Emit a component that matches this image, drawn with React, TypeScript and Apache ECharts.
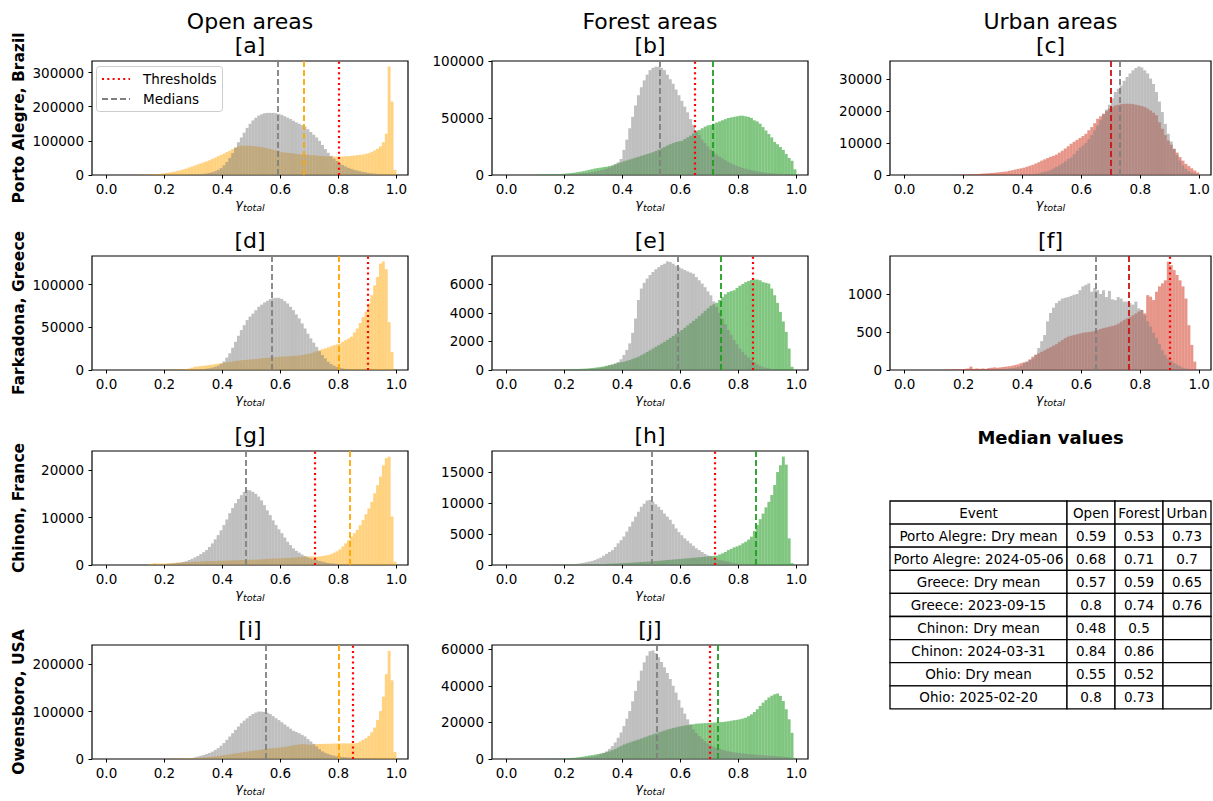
import React, { useEffect, useRef } from "react";
import * as echarts from "echarts";

const FONT = "DejaVu Sans";

// ---------------- text content ----------------
const COLUMN_TITLES = ["Open areas", "Forest areas", "Urban areas"];
const ROW_TITLES = ["Porto Alegre, Brazil", "Farkadona, Greece", "Chinon, France", "Owensboro, USA"];
const PANEL_IDS = ["a", "b", "c", "d", "e", "f", "g", "h", "i", "j"];
const PANEL_ROW = [0, 0, 0, 1, 1, 1, 2, 2, 3, 3];
const PANEL_COL = [0, 1, 2, 0, 1, 2, 0, 1, 0, 1];
const PANEL_CLASS = ["open", "forest", "urban", "open", "forest", "urban", "open", "forest", "open", "forest"];
const X_TICKS = [0, 0.2, 0.4, 0.6, 0.8, 1.0];

// ---------------- histogram counts (bins of 0.01 from 0 to 1) ----------------
// [a] Porto Alegre, open (unit 1000)
const A_DRY = [0,0,0,0,0,0,0,0,0,0,
  0,0,0,0,0,0.1,0.1,0.2,0.2,0.3,
  0.3,0.4,0.5,0.6,0.7,0.8,1,1.2,1.4,1.7,
  2,2.5,3,3.6,4.5,6,8,11,15,20,
  28,38,50,64,80,96,110,124,138,150,
  160,168,174,178,181,182,182,182,181,179,
  176,172,168,164,159,154,150,146,142,134,
  126,118,110,100,88,76,65,56,48,41,
  34,29,25,21,18,15,13,11,9,7.5,
  6,5,4,3.2,2.5,2,1.5,1,0.5,0.2];
const A_EVT = [0,0,0,0,0,0,0,0,0,0,
  0.5,0.6,0.8,1,1.3,1.7,2.2,2.8,3.5,4.5,
  6,7,8.5,10,12,14,16.5,19,22,25,
  28,31,34,37,40,43,47,51,55,59,
  63,67,71,76,81,84,86,86,86,86,
  85,84,83,82,80,78,76,74,72,70,
  67,66,65,64,63,62,61,60,60,59,
  58,58,57,56,56,55,55,54,54,54,
  54,54,55,55,56,57,58,59,60,62,
  64,68,72,77,84,96,121,318,215,15];
// [b] Porto Alegre, forest (unit 1000)
const B_DRY = [0,0,0,0,0,0,0,0,0,0,
  0.1,0.1,0.1,0.2,0.2,0.3,0.3,0.4,0.5,0.6,
  0.7,0.8,0.9,1,1.1,1.3,1.5,1.8,2.1,2.5,
  3,3.5,4,4.7,5.5,6.5,7.8,9.3,11,14,
  22,31,41,51,61,70,77,83,88,92,
  94,95,95,94,92,88,84,80,75,70,
  65,60,55,49,44,39,35,31,28,25,
  22,20,18,16,14.5,13,11.5,10.2,9,8,
  7,6.2,5.5,4.8,4.2,3.7,3.2,2.8,2.4,2,
  1.7,1.5,1.3,1.1,1,0.8,0.6,0.5,0.3,0.1];
const B_EVT = [0,0,0,0,0,0,0,0,0,0,
  0.2,0.3,0.3,0.4,0.5,0.6,0.7,0.8,0.9,1.1,
  1.3,1.5,1.8,2.1,2.5,2.9,3.4,3.9,4.5,5.1,
  5.7,6.1,6.5,6.9,7.3,7.8,8.5,9.3,10.2,11.1,
  12,12.8,13.6,14.4,15.2,16,16.8,17.6,18.4,19.2,
  20,21,22.2,23.4,24.6,26,27,28,29,29.5,
  30,31.5,33,34.5,36.5,38,39.5,41,42.5,43.5,
  44,45,46,47,48,49,50,50.5,51,51.5,
  52,52,51.5,51,50,48,47,45,42,39,
  36,33,29,27,24.5,22,18.5,15,12.5,5];
// [c] Porto Alegre, urban (unit 1000)
const C_DRY = [0,0,0,0,0,0,0,0,0,0,
  0,0,0,0,0,0,0,0,0,0,
  0,0,0,0,0,0,0,0,0,0,
  0.05,0.05,0.05,0.05,0.1,0.1,0.1,0.1,0.15,0.15,
  0.2,0.2,0.25,0.3,0.4,0.5,0.8,1,1.2,1.5,
  2,2.5,3,3.6,4.3,5,5.5,6.5,7.5,8.5,
  9.2,10,11.2,12.5,14,15.5,17.2,19,20.5,22,
  24,26,27,28,29.5,30.7,31.8,32.8,33.5,34,
  33.7,32.8,31.8,30.2,28.5,26,23,19.7,16,12.9,
  10.5,8.2,6.2,4.5,3,1.9,1.2,0.8,0.5,0.2];
const C_EVT = [0,0,0,0,0,0,0,0,0,0,
  0,0,0,0,0,0,0,0.05,0.05,0.1,
  0.1,0.2,0.2,0.25,0.3,0.35,0.45,0.5,0.55,0.65,
  0.7,0.8,0.9,1,1.1,1.3,1.5,1.7,1.9,2.1,
  2.3,2.6,2.9,3.2,3.6,4,4.5,4.9,5.3,5.7,
  6,6.4,7,7.6,8.3,9,9.8,10.4,11,11.6,
  12.2,12.9,14,15,16.2,17.6,18.4,19.2,20,20.8,
  21.3,21.8,22,22.2,22.3,22.3,22.3,22.2,22,21.8,
  21.6,21.3,20.8,20.2,19.5,18.7,16.5,14.5,12.5,10.8,
  9.5,8.2,7,5.6,4.5,3.5,2.8,2.1,1.4,0.8];
// [d] Farkadona, open (unit 1000)
const D_DRY = [0,0,0,0,0,0,0,0,0,0,
  0,0,0,0,0,0,0,0,0,0,
  0,0,0,0,0,0.1,0.1,0.2,0.2,0.3,
  0.5,0.6,0.8,1.1,1.5,2,2.8,3.8,5,7,
  10,14.5,19.5,26,33,40,46.7,52.5,58.4,62.5,
  66,70,74,76.5,79,81,83,84,84.4,84.4,
  83,80.5,77.8,74,70,65,60.3,54.5,48.6,42.5,
  37,32,27,22,17.5,13.5,9.7,7,5,3.6,
  2.5,1.8,1.3,0.9,0.6,0.4,0.3,0.2,0.1,0.1,
  0,0,0,0,0,0,0,0,0,0];
const D_EVT = [0,0,0,0,0,0,0,0,0,0,
  0,0,0,0,0,0,0,0.1,0.1,0.2,
  0.2,0.3,0.3,0.4,0.5,0.5,0.8,1.2,1.8,2.8,
  3.9,4.2,4.6,5,5.4,5.8,6.3,6.8,7.4,8,
  8.5,9,9.5,10,10.5,11,11.3,11.7,12,12.3,
  12.5,12.9,13.3,13.7,14,14.4,14.6,14.9,15.1,15.4,
  15.6,15.8,16,16.2,16.5,16.7,17,17.6,18.2,18.8,
  19.5,20.5,21.8,23.3,24.3,25.3,26.5,27.8,29,30,
  31,33,35,37,39,44,48.6,55,62,68,
  77.8,87.5,99,109,124.5,127,118,56,21,0];
// [e] Farkadona, forest (unit 1)
const E_DRY = [0,0,0,0,0,0,0,0,0,0,
  0,0,0,0,0,0,0,0,5,5,
  10,12,15,18,22,28,35,45,60,80,
  100,120,150,190,240,300,370,450,560,750,
  1050,1400,1860,2600,3600,4900,5700,6100,6400,6650,
  6860,7050,7200,7350,7440,7600,7560,7440,7300,7200,
  7100,7000,6900,6820,6740,6500,6280,6050,5800,5500,
  5230,4800,4400,4000,3600,3200,2800,2450,2100,1800,
  1500,1270,1050,870,700,550,400,300,200,150,
  100,80,60,40,30,20,10,5,0,0];
const E_EVT = [0,0,0,0,0,0,0,0,0,0,
  0,0,0,0,0,5,5,10,10,15,
  30,35,40,50,60,80,90,100,120,140,
  160,190,220,250,300,350,390,440,490,540,
  580,640,700,780,850,930,1030,1140,1260,1380,
  1500,1620,1740,1860,1980,2100,2240,2380,2520,2660,
  2800,2960,3120,3280,3440,3600,3780,3960,4140,4320,
  4500,4600,4700,4900,5100,5300,5450,5520,5580,5750,
  5900,6020,6150,6230,6300,6330,6330,6280,6150,6100,
  6050,5700,5230,4700,4070,3400,2670,1500,230,0];
// [f] Farkadona, urban (unit 1)
const F_DRY = [0,0,0,0,0,0,0,0,0,0,
  0,0,0,0,0,0,0,0,0,0,
  0,0,0,0,0,0,0,0,5,5,
  5,10,10,15,15,20,25,30,40,55,
  90,110,130,150,200,290,380,460,640,750,
  820,880,910,940,950,960,975,990,1000,1050,
  1100,1120,1140,1030,1080,1050,1000,1050,960,1040,
  930,920,960,940,900,900,880,860,900,810,
  790,720,640,570,490,420,340,260,200,150,
  120,90,70,50,30,20,10,5,0,0];
const F_EVT = [0,0,0,0,0,0,0,0,0,0,
  0,0,0,5,5,5,5,10,10,10,
  15,20,45,15,20,15,20,15,25,30,
  35,30,35,40,45,50,57,65,75,90,
  100,110,140,175,200,220,240,260,280,300,
  320,340,370,395,420,440,450,460,470,480,
  490,495,500,505,515,525,540,550,560,570,
  580,590,610,635,660,680,700,720,745,770,
  790,745,985,965,920,1030,1100,1140,1180,1425,
  1380,1315,1250,1180,1100,940,590,330,110,0];
// [g] Chinon, open (unit 1000)
const G_DRY = [0,0,0,0,0,0,0,0,0,0,
  0,0,0,0,0.05,0.05,0.1,0.1,0.15,0.15,
  0.2,0.25,0.3,0.35,0.45,0.5,0.65,0.8,1.05,1.3,
  1.6,1.9,2.3,2.7,3.15,3.8,4.55,5.4,6.3,7.3,
  8.4,9.6,10.9,12,13,13.9,14.7,15.4,15.8,15.7,
  15.4,15,14.4,13.6,12.6,11.5,10.5,9.4,8.4,7.5,
  6.7,5.8,4.9,4.2,3.5,3,2.6,2.2,1.9,1.6,
  1.4,1.2,1.05,0.85,0.7,0.55,0.42,0.35,0.3,0.22,
  0.15,0.12,0.1,0.08,0.06,0.05,0.04,0.03,0.02,0.01,
  0,0,0,0,0,0,0,0,0,0];
const G_EVT = [0,0,0,0,0,0,0,0,0,0,
  0,0,0,0,0.1,0.2,0.4,0.3,0.3,0.3,
  0.35,0.4,0.4,0.45,0.5,0.5,0.55,0.6,0.6,0.65,
  0.7,0.7,0.75,0.75,0.8,0.8,0.85,0.85,0.9,0.9,
  0.9,0.95,0.95,1,1,1,1.05,1.05,1.1,1.1,
  1.1,1.15,1.15,1.2,1.25,1.3,1.3,1.35,1.35,1.4,
  1.4,1.45,1.5,1.5,1.55,1.6,1.65,1.7,1.75,1.8,
  1.8,1.8,1.75,1.8,1.9,2,2.1,2.3,2.6,2.9,
  3.3,3.9,4.55,5.2,6,6.7,7.4,8.4,9.5,10.7,
  11.9,13.3,15.1,16.8,18.6,21,22.5,22.8,10.2,0.7];
// [h] Chinon, forest (unit 1000)
const H_DRY = [0,0,0,0,0,0,0,0,0,0,
  0,0,0,0,0,0.02,0.03,0.04,0.05,0.06,
  0.08,0.1,0.12,0.15,0.2,0.27,0.35,0.45,0.55,0.65,
  0.8,1,1.2,1.5,1.8,2.1,2.4,2.9,3.5,4,
  4.6,5.4,6.2,7,7.8,8.6,9.4,9.9,10.4,10.5,
  10.2,9.8,9.4,8.9,8.3,7.8,7.3,6.6,5.9,5.3,
  4.8,4.3,3.9,3.5,3.1,2.7,2.4,2.1,1.8,1.55,
  1.34,1.15,0.97,0.83,0.7,0.62,0.54,0.4,0.27,0.24,
  0.2,0.17,0.14,0.12,0.1,0.08,0.06,0.05,0.04,0.03,
  0.02,0.02,0.01,0.01,0,0,0,0,0,0];
const H_EVT = [0,0,0,0,0,0,0,0,0,0,
  0,0,0,0,0,0,0.02,0.03,0.04,0.05,
  0.05,0.06,0.06,0.07,0.08,0.08,0.09,0.09,0.1,0.1,
  0.1,0.12,0.14,0.16,0.18,0.2,0.22,0.24,0.26,0.28,
  0.3,0.33,0.36,0.39,0.42,0.45,0.48,0.51,0.54,0.57,
  0.6,0.64,0.68,0.72,0.76,0.8,0.84,0.88,0.92,0.96,
  1,1.04,1.08,1.12,1.16,1.2,1.25,1.3,1.35,1.4,
  1.45,1.48,1.5,1.7,1.88,2.1,2.4,2.6,2.85,3,
  3.2,3.5,3.76,4.1,4.57,5.5,6.45,7.4,8.3,9.3,
  10.2,11.3,12.9,15,16.1,17.5,16.2,4.3,0.3,0];
// [i] Owensboro, open (unit 1000)
const I_DRY = [0,0,0,0,0,0,0,0,0,0,
  0,0,0,0,0,0,0,0,0,0,
  0,0,0,0.1,0.2,0.3,0.5,0.8,1.2,2,
  3.5,5,6.8,8.5,10.5,12.6,15.5,19,23,28,
  33.6,40.5,47.5,54.5,61.5,68.5,75.5,81,86,91,
  95,98,100,100,99.3,97.5,95,90.5,86,82,
  77.6,73,68.5,64,59.4,57,54.5,51,47.5,42,
  37,32,26.6,21,16.1,13,10.5,8.5,7,5.8,
  4.9,4.2,3.5,3,2.5,2,1.7,1.4,1.1,0.9,
  0.8,0.6,0.5,0.4,0.3,0.2,0.15,0.1,0.05,0];
const I_EVT = [0,0,0,0,0,0,0,0,0,0,
  0,0,0,0,0,0,0,0,0,0,
  0.2,0.3,0.4,0.5,0.6,0.8,1,1.2,1.5,1.8,
  2,2.4,2.8,3.2,3.6,4,4.8,5.6,6.4,7.2,
  8,9,10,11,11.8,12.6,13.6,14.6,15.6,16.6,
  17.5,18.3,19.1,19.9,20.8,21.7,22.3,22.9,23.5,24,
  24.5,25.6,26.7,27.8,28.9,30,30.8,31.5,31.2,30.6,
  30,30.5,31.5,31.7,31.9,32,32.2,32.4,32.6,32.8,
  33,33,33,33,33,33,34,37,40.5,44,
  49,56.6,66.4,82.5,101,131.5,179,228,166,15];
// [j] Owensboro, forest (unit 1000)
const J_DRY = [0,0,0,0,0,0,0,0,0,0,
  0,0,0,0,0,0.05,0.1,0.1,0.15,0.2,
  0.25,0.3,0.35,0.4,0.5,0.6,0.75,0.9,1.1,1.3,
  1.5,2,2.75,3.4,4.2,5.5,7,9,11.6,14.5,
  18,22,26.2,31.5,37.2,42.8,48.3,52.8,56.5,58.9,
  59.3,57.8,55.6,53,50.1,47,43.7,40,36.3,32.2,
  28.1,24.8,21.7,18.8,16.1,14.2,12.5,11,9.7,8.5,
  7.5,6.7,6,5.5,5,4.6,4.2,3.9,3.6,3.4,
  3.3,3.1,2.9,2.7,2.6,2.4,2.3,2.2,2.1,1.9,
  1.8,1.7,1.6,1.5,1.3,1.2,1,0.8,0.6,0.2];
const J_EVT = [0,0,0,0,0,0,0,0,0,0,
  0,0,0,0,0,0.05,0.1,0.15,0.2,0.3,
  0.4,0.5,0.6,0.7,0.9,1.1,1.3,1.6,1.9,2.1,
  2.4,2.7,3,3.3,3.7,4.2,4.8,5.5,6.3,7.1,
  7.9,8.5,9,9.6,10.1,10.6,11.2,11.8,12.3,12.9,
  13.4,14,14.5,15,15.6,16.1,16.5,16.9,17.3,17.7,
  18,18.3,18.5,18.8,19,19.3,19.4,19.5,19.6,19.7,
  19.8,19.9,20,20.1,20.2,20.4,20.6,20.9,21.2,21.4,
  21.7,22.1,22.6,23.4,24.4,25.7,27.2,29,30.8,32.2,
  33.6,34.6,35.4,35.8,34.5,31.7,27.2,21.7,14.3,0.6];

const DRY_SERIES = [A_DRY, B_DRY, C_DRY, D_DRY, E_DRY, F_DRY, G_DRY, H_DRY, I_DRY, J_DRY];
const EVENT_SERIES = [A_EVT, B_EVT, C_EVT, D_EVT, E_EVT, F_EVT, G_EVT, H_EVT, I_EVT, J_EVT];
const UNITS = [1000, 1000, 1000, 1000, 1, 1, 1000, 1000, 1000, 1000];
const Y_MAX = [334000, 100000, 35700, 133400, 7980, 1500, 24000, 18400, 240500, 62300];
const Y_TICKS = [
  [0, 100000, 200000, 300000],
  [0, 50000, 100000],
  [0, 10000, 20000, 30000],
  [0, 50000, 100000],
  [0, 2000, 4000, 6000],
  [0, 500, 1000],
  [0, 10000, 20000],
  [0, 5000, 10000, 15000],
  [0, 100000, 200000],
  [0, 20000, 40000, 60000],
];
const MEDIAN_DRY = [0.59, 0.533, 0.73, 0.57, 0.59, 0.65, 0.48, 0.5, 0.545, 0.515];
const MEDIAN_EVENT = [0.68, 0.706, 0.70, 0.80, 0.742, 0.755, 0.84, 0.856, 0.803, 0.731];
const THRESHOLDS = [0.8, 0.65, null, 0.9, 0.85, 0.9, 0.725, 0.725, 0.85, 0.7];

// ---------------- table ----------------
const TABLE_HEADER = ["Event", "Open", "Forest", "Urban"];
const TABLE_EVENTS = ["Porto Alegre: Dry mean", "Porto Alegre: 2024-05-06", "Greece: Dry mean", "Greece: 2023-09-15",
  "Chinon: Dry mean", "Chinon: 2024-03-31", "Ohio: Dry mean", "Ohio: 2025-02-20"];
const TABLE_OPEN = ["0.59", "0.68", "0.57", "0.8", "0.48", "0.84", "0.55", "0.8"];
const TABLE_FOREST = ["0.53", "0.71", "0.59", "0.74", "0.5", "0.86", "0.52", "0.73"];
const TABLE_URBAN = ["0.73", "0.7", "0.65", "0.76", "", "", "", ""];

// ---------------- layout / style ----------------
const GRID_LEFT = [92, 492, 890];
const GRID_WIDTH = [316, 316, 321];
const GRID_TOP = [61, 256, 451, 645];
const GRID_HEIGHT = 114;
const X_MIN = -0.05;
const X_MAX = 1.04;
const FILL: Record<string, string> = {
  dry: "rgba(128,128,128,0.5)",
  open: "rgba(255,165,0,0.5)",
  forest: "rgba(44,160,44,0.6)",
  urban: "rgba(214,62,40,0.55)",
};
const LINE: Record<string, string> = {
  dry: "#808080",
  open: "#ffa500",
  forest: "#1f9e1f",
  urban: "#c81414",
};
const DASH = [6, 3];
const DOT = [2, 3.3];
const TABLE_COLS = [890, 1067, 1115, 1163, 1211];
const TABLE_TOP = 501;
const TABLE_ROW_H = 23.1;

function histSeries(name: string, values: number[], unit: number, color: string, k: number, extra: any = {}) {
  const data = values
    .map((v, i) => [i / 100, (i + 1) / 100, v * unit])
    .filter((d) => d[2] > 0);
  return {
    type: "custom",
    name,
    xAxisIndex: k,
    yAxisIndex: k,
    silent: true,
    encode: { x: [0, 1], y: 2 },
    data,
    renderItem: (_params: any, api: any) => {
      const p0 = api.coord([api.value(0), 0]);
      const p1 = api.coord([api.value(1), api.value(2)]);
      return {
        type: "rect",
        shape: { x: p0[0], y: p1[1], width: p1[0] - p0[0], height: p0[1] - p1[1] },
        style: { fill: color },
      };
    },
    ...extra,
  };
}

function text(x: number, y: number, t: string, size: number, extra: any = {}) {
  return {
    type: "text",
    x,
    y,
    z: 100,
    silent: true,
    ...extra,
    style: {
      text: t,
      fontFamily: FONT,
      fontSize: size,
      fill: "#000",
      align: "center",
      textAlign: "center",
      verticalAlign: "middle",
      textVerticalAlign: "middle",
      ...(extra.style || {}),
    },
  };
}

function buildOption() {
  const grid: any[] = [];
  const xAxis: any[] = [];
  const yAxis: any[] = [];
  const series: any[] = [];
  const graphic: any[] = [];
  const labelStyle = { fontFamily: FONT, fontSize: 13.5, color: "#000" };

  PANEL_IDS.forEach((id, k) => {
    const r = PANEL_ROW[k];
    const c = PANEL_COL[k];
    const cls = PANEL_CLASS[k];
    grid.push({
      left: GRID_LEFT[c], top: GRID_TOP[r], width: GRID_WIDTH[c], height: GRID_HEIGHT,
      show: true, borderColor: "#000", borderWidth: 1.2, backgroundColor: "rgba(0,0,0,0)",
    });
    xAxis.push({
      type: "value", gridIndex: k, min: X_MIN, max: X_MAX,
      axisLine: { show: false, onZero: false },
      axisTick: { show: true, length: 3.5, customValues: X_TICKS, lineStyle: { color: "#000", width: 1 } },
      axisLabel: { customValues: X_TICKS, formatter: (v: number) => v.toFixed(1), margin: 7, ...labelStyle },
      splitLine: { show: false },
      name: "{g|γ}{s|total}",
      nameLocation: "middle",
      nameGap: 21,
      nameTextStyle: {
        rich: {
          g: { fontFamily: FONT, fontSize: 13, fontStyle: "italic", color: "#000", lineHeight: 16, verticalAlign: "top" },
          s: { fontFamily: FONT, fontSize: 9.5, fontStyle: "italic", color: "#000", lineHeight: 12, padding: [6, 0, 0, 0], verticalAlign: "bottom" },
        },
      },
    });
    yAxis.push({
      type: "value", gridIndex: k, min: 0, max: Y_MAX[k],
      axisLine: { show: false, onZero: false },
      axisTick: { show: true, length: 3.5, customValues: Y_TICKS[k], lineStyle: { color: "#000", width: 1 } },
      axisLabel: { customValues: Y_TICKS[k], formatter: (v: number) => String(Math.round(v)), margin: 8, ...labelStyle },
      splitLine: { show: false },
    });

    const lines: any[] = [
      { xAxis: MEDIAN_DRY[k], lineStyle: { color: LINE.dry, type: DASH, width: 1.8 } },
      { xAxis: MEDIAN_EVENT[k], lineStyle: { color: LINE[cls], type: DASH, width: 1.8 } },
    ];
    if (THRESHOLDS[k] != null) {
      lines.push({ xAxis: THRESHOLDS[k], lineStyle: { color: "#ff0000", type: DOT, width: 2.2 } });
    }
    series.push(histSeries(`${id}-event`, EVENT_SERIES[k], UNITS[k], FILL[cls], k));
    series.push(
      histSeries(`${id}-dry`, DRY_SERIES[k], UNITS[k], FILL.dry, k, {
        markLine: {
          silent: true,
          symbol: ["none", "none"],
          label: { show: false },
          emphasis: { disabled: true },
          data: lines,
        },
      })
    );

    const cx = GRID_LEFT[c] + GRID_WIDTH[c] / 2;
    graphic.push(text(cx, GRID_TOP[r] - 16, `[${id}]`, 22));
  });

  COLUMN_TITLES.forEach((t, c) => {
    graphic.push(text(GRID_LEFT[c] + GRID_WIDTH[c] / 2, 21, t, 22));
  });
  ROW_TITLES.forEach((t, r) => {
    graphic.push(text(19, GRID_TOP[r] + GRID_HEIGHT / 2, t, 15.5, { rotation: Math.PI / 2, style: { fontWeight: "bold" } }));
  });

  // legend in panel [a]
  graphic.push({
    type: "rect", z: 100, silent: true,
    shape: { x: 96.5, y: 66.5, width: 126, height: 45, r: 3 },
    style: { fill: "rgba(255,255,255,0.8)", stroke: "#cccccc", lineWidth: 1 },
  });
  graphic.push({
    type: "line", z: 101, silent: true,
    shape: { x1: 102, y1: 79, x2: 130, y2: 79 },
    style: { stroke: "#ff0000", lineWidth: 2.2, lineDash: DOT },
  });
  graphic.push({
    type: "line", z: 101, silent: true,
    shape: { x1: 102, y1: 99, x2: 130, y2: 99 },
    style: { stroke: LINE.dry, lineWidth: 1.8, lineDash: DASH },
  });
  graphic.push(text(143, 79, "Thresholds", 13.5, { z: 101, style: { align: "left", textAlign: "left" } }));
  graphic.push(text(143, 99, "Medians", 13.5, { z: 101, style: { align: "left", textAlign: "left" } }));

  // table
  const tableCenter = (TABLE_COLS[0] + TABLE_COLS[TABLE_COLS.length - 1]) / 2;
  graphic.push(text(tableCenter, 437, "Median values", 18, { style: { fontWeight: "bold" } }));
  const rows = [TABLE_HEADER].concat(
    TABLE_EVENTS.map((e, i) => [e, TABLE_OPEN[i], TABLE_FOREST[i], TABLE_URBAN[i]])
  );
  rows.forEach((row, ri) => {
    const y0 = TABLE_TOP + ri * TABLE_ROW_H;
    row.forEach((cell, ci) => {
      const x0 = TABLE_COLS[ci];
      const w = TABLE_COLS[ci + 1] - x0;
      graphic.push({
        type: "rect", z: 100, silent: true,
        shape: { x: x0, y: y0, width: w, height: TABLE_ROW_H },
        style: { fill: "#ffffff", stroke: "#000", lineWidth: 1.3 },
      });
      if (cell) graphic.push(text(x0 + w / 2, y0 + TABLE_ROW_H / 2, cell, 13.5, { z: 101 }));
    });
  });

  return {
    animation: false,
    backgroundColor: "#ffffff",
    grid,
    xAxis,
    yAxis,
    series,
    graphic: { elements: graphic },
  };
}

export default function App() {
  const ref = useRef<HTMLDivElement>(null);
  useEffect(() => {
    const chart = echarts.init(ref.current as HTMLDivElement, null, { renderer: "svg", width: 1213, height: 801 });
    chart.setOption(buildOption() as any);
    return () => chart.dispose();
  }, []);
  return (
    <div
      ref={ref}
      style={{ position: "absolute", left: 0, top: 0, width: 1213, height: 801, background: "#fff" }}
    />
  );
}
